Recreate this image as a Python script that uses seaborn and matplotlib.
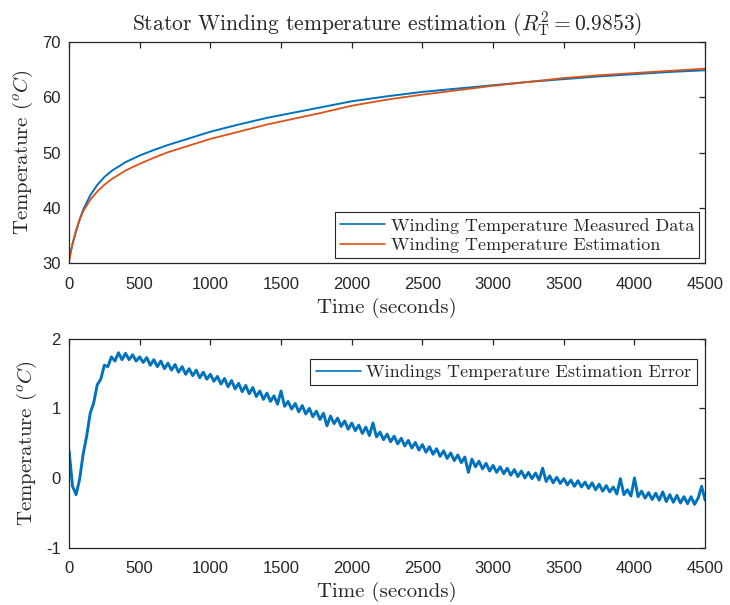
import numpy as np
import pandas as pd
import matplotlib
matplotlib.use("Agg")
import matplotlib.pyplot as plt
import seaborn as sns

# ---- stator winding temperature: measured vs. estimated (deg C) ----
time_top = [0, 25, 50, 75, 100, 150, 200, 250, 300, 400, 500, 600, 700, 800,
            1000, 1200, 1400, 1600, 1800, 2000, 2250, 2500, 2750, 3000, 3250,
            3500, 3750, 4000, 4250, 4500]
measured = [30.8, 33.5, 35.8, 37.9, 39.7, 42.3, 44.2, 45.6, 46.7, 48.3, 49.5,
            50.5, 51.4, 52.2, 53.8, 55.1, 56.3, 57.3, 58.3, 59.3, 60.2, 61.0,
            61.6, 62.2, 62.8, 63.3, 63.8, 64.2, 64.6, 64.9]
estimated = [30.3, 33.6, 36.0, 37.9, 39.4, 41.5, 43.0, 44.2, 45.2, 46.8, 48.0,
             49.1, 50.1, 50.9, 52.5, 53.8, 55.1, 56.2, 57.3, 58.5, 59.6, 60.5,
             61.3, 62.1, 62.8, 63.5, 64.0, 64.4, 64.8, 65.2]

# ---- estimation error, sampled every 25 s from t = 0 to 4500 s ----
error_step = 25
error = [
    0.40, -0.12, -0.24, -0.02, 0.34, 0.60, 0.93, 1.08, 1.34, 1.42,
    1.62, 1.60, 1.74, 1.68, 1.80, 1.70, 1.79, 1.70, 1.77, 1.68,
    1.74, 1.66, 1.73, 1.62, 1.70, 1.60, 1.68, 1.57, 1.65, 1.55,
    1.63, 1.52, 1.60, 1.49, 1.57, 1.47, 1.55, 1.44, 1.52, 1.42,
    1.49, 1.39, 1.46, 1.35, 1.43, 1.31, 1.40, 1.28, 1.36, 1.24,
    1.33, 1.21, 1.30, 1.17, 1.25, 1.13, 1.22, 1.10, 1.18, 1.06,
    1.25, 1.03, 1.10, 0.99, 1.07, 0.95, 1.04, 0.92, 1.00, 0.88,
    0.96, 0.84, 0.93, 0.75, 0.89, 0.78, 0.86, 0.74, 0.82, 0.70,
    0.79, 0.68, 0.76, 0.64, 0.73, 0.61, 0.79, 0.59, 0.66, 0.55,
    0.63, 0.52, 0.60, 0.49, 0.57, 0.46, 0.54, 0.43, 0.51, 0.40,
    0.48, 0.37, 0.45, 0.34, 0.42, 0.31, 0.39, 0.28, 0.36, 0.25,
    0.33, 0.22, 0.30, 0.08, 0.27, 0.16, 0.24, 0.13, 0.21, 0.10,
    0.18, 0.08, 0.16, 0.06, 0.14, 0.04, 0.12, 0.02, 0.10, 0.00,
    0.08, -0.01, 0.07, -0.03, 0.14, -0.05, 0.03, -0.07, 0.01, -0.08,
    -0.01, -0.10, -0.03, -0.12, -0.04, -0.13, -0.06, -0.15, -0.07, -0.17,
    -0.09, -0.19, -0.11, -0.20, -0.13, -0.23, -0.01, -0.24, -0.17, -0.26,
    0.00, -0.27, -0.19, -0.29, -0.21, -0.31, -0.22, -0.32, -0.20, -0.34,
    -0.24, -0.35, -0.25, -0.36, -0.27, -0.37, -0.27, -0.38, -0.29, -0.12,
    -0.32,
]

x_ticks = [0, 500, 1000, 1500, 2000, 2500, 3000, 3500, 4000, 4500]
top_yticks = [30, 40, 50, 60, 70]
bottom_yticks = [-1, 0, 1, 2]

BLUE = "#0072BD"
ORANGE = "#D95319"
INK = "#262626"
SERIF = "cmr10"

sns.set_theme(style="white")
plt.rcParams.update({
    "font.family": ["Liberation Sans", "DejaVu Sans"],
    "mathtext.fontset": "cm",
    "axes.unicode_minus": False,
    "axes.edgecolor": INK,
    "axes.linewidth": 0.9,
    "xtick.color": INK,
    "ytick.color": INK,
    "xtick.labelcolor": INK,
    "ytick.labelcolor": INK,
    "xtick.direction": "in",
    "ytick.direction": "in",
    "xtick.major.size": 4,
    "ytick.major.size": 4,
    "xtick.major.width": 0.9,
    "ytick.major.width": 0.9,
    "xtick.labelsize": 12,
    "ytick.labelsize": 12,
    "xtick.major.pad": 10,
    "ytick.major.pad": 6,
})

top_df = pd.DataFrame({"t": time_top, "measured": measured, "estimated": estimated})
err_df = pd.DataFrame({"t": np.arange(len(error)) * error_step, "err": error})

fig = plt.figure(figsize=(7.30, 6.05), dpi=100)
ax1 = fig.add_axes([0.0945, 0.5645, 0.8715, 0.3660])
ax2 = fig.add_axes([0.0945, 0.0950, 0.8715, 0.3450])

sns.lineplot(data=top_df, x="t", y="measured", ax=ax1, color=BLUE, linewidth=1.4,
             label="Winding Temperature Measured Data")
sns.lineplot(data=top_df, x="t", y="estimated", ax=ax1, color=ORANGE, linewidth=1.3,
             label="Winding Temperature Estimation")
sns.lineplot(data=err_df, x="t", y="err", ax=ax2, color=BLUE, linewidth=2.1,
             label="Windings Temperature Estimation Error")

for ax, yt in ((ax1, top_yticks), (ax2, bottom_yticks)):
    ax.set_xlim(x_ticks[0], x_ticks[-1])
    ax.set_ylim(yt[0], yt[-1])
    ax.set_xticks(x_ticks)
    ax.set_yticks(yt)
    ax.tick_params(top=True, right=True, labeltop=False, labelright=False)
    for s in ax.spines.values():
        s.set_visible(True)
        s.set_color(INK)
    ax.set_xlabel("Time (seconds)", fontfamily=SERIF, fontsize=15, color=INK, labelpad=4)
    ax.set_ylabel(r"Temperature ($^oC$)", fontfamily=SERIF, fontsize=15, color=INK, labelpad=5)

ax1.set_title(r"Stator Winding temperature estimation ($R_{\mathrm{T}}^2 = 0.9853$)",
              fontfamily=SERIF, fontsize=15.5, color=INK, pad=8)

leg_kw = dict(prop={"family": SERIF, "size": 13}, frameon=True, fancybox=False,
              edgecolor=INK, framealpha=1, borderpad=0.3, labelspacing=0.2,
              handlelength=2.5, handletextpad=0.3, borderaxespad=0.0)
leg1 = ax1.legend(loc="lower right", bbox_to_anchor=(0.991, 0.023), **leg_kw)
leg2 = ax2.legend(loc="upper right", bbox_to_anchor=(0.987, 0.904), **leg_kw)
for leg in (leg1, leg2):
    leg.get_frame().set_linewidth(0.8)
    for txt in leg.get_texts():
        txt.set_color(INK)
    for ln in leg.get_lines():
        ln.set_linewidth(1.2)

fig.savefig("out.png", dpi=100)
